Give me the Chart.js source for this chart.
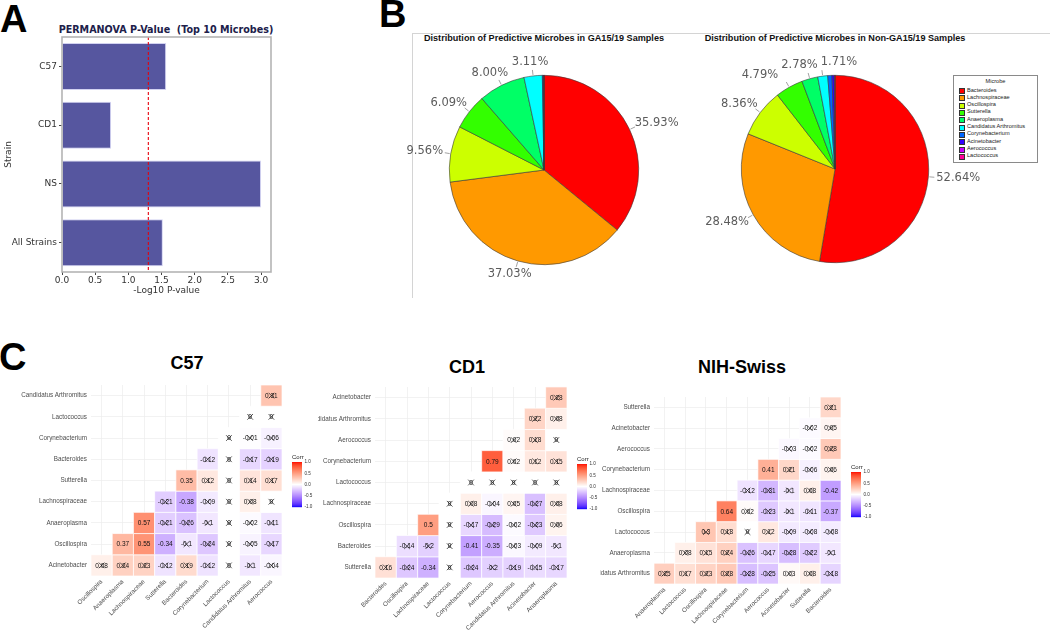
<!DOCTYPE html>
<html>
<head>
<meta charset="utf-8">
<script src="https://cdn.jsdelivr.net/npm/chart.js@4.4.1/dist/chart.umd.min.js"></script>
<style>
  body { margin: 0; width: 1050px; height: 632px; background: #fff; position: relative; overflow: hidden;
         font-family: "Liberation Sans", Arial, sans-serif; }
  .abs { position: absolute; }
  .letter { font-weight: bold; font-size: 38px; line-height: 38px; color: #000; }
  .ptitle { font-weight: bold; font-size: 9.1px; color: #111; white-space: nowrap; text-align: center; }
  .htitle { font-weight: bold; font-size: 18px; color: #000; white-space: nowrap; text-align: center; line-height: 18px; }
  #legendB { border: 1px solid #8a8a8a; background: #fff; font-size: 5.6px; color: #222; }
  #legendB .item { position: absolute; left: 13px; white-space: nowrap; line-height: 7px; }
  #legendB .sw { position: absolute; left: -8px; top: 1.5px; width: 4px; height: 4px; border: 0.5px solid #333; }
</style>
</head>
<body>

<div class="abs letter" style="left:0px;top:0px;">A</div>
<div class="abs letter" style="left:379px;top:-5px;">B</div>
<div class="abs letter" style="left:-1px;top:338px;">C</div>

<!-- panel A -->
<div class="abs" style="left:16px;top:24px;width:300px;text-align:center;font:bold 9.6px 'DejaVu Sans';color:#20204a;white-space:pre;">PERMANOVA P-Value  (Top 10 Microbes)</div>
<canvas id="permanova" class="abs" width="300" height="310" style="left:0;top:0;"></canvas>

<!-- panel B -->
<div class="abs" style="left:412px;top:33px;width:640px;height:264px;border-top:1px solid #d4d4d4;border-left:1px solid #d4d4d4;"></div>
<div class="abs ptitle" style="left:394px;top:33px;width:300px;">Distribution of Predictive Microbes in GA15/19 Samples</div>
<div class="abs ptitle" style="left:685px;top:33px;width:300px;">Distribution of Predictive Microbes in Non-GA15/19 Samples</div>
<canvas id="pieGa" class="abs" width="290" height="262" style="left:396px;top:40px;"></canvas>
<canvas id="pieNonGa" class="abs" width="300" height="262" style="left:690px;top:40px;"></canvas>
<div id="legendB" class="abs" style="left:953px;top:75px;width:83px;height:86px;">
  <div class="abs" style="left:0;top:2px;width:83px;text-align:center;">Microbe</div>
</div>

<!-- panel C -->
<div class="abs htitle" style="left:87px;top:354px;width:200px;">C57</div>
<div class="abs htitle" style="left:367px;top:358px;width:200px;">CD1</div>
<div class="abs htitle" style="left:642px;top:358px;width:200px;">NIH-Swiss</div>
<canvas id="hmC57" class="abs" width="318" height="262" style="left:0;top:370px;"></canvas>
<canvas id="hmCD1" class="abs" width="282" height="262" style="left:318px;top:370px;"></canvas>
<canvas id="hmNIH" class="abs" width="450" height="262" style="left:600px;top:370px;"></canvas>

<script>
'use strict';

// panel A data
const strains = ['C57', 'CD1', 'NS', 'All Strains'];
const negLogP = [1.57, 0.74, 3.0, 1.52];
const pThreshold = 1.301; // -log10(0.05)
const pTicks = [0, 0.5, 1.0, 1.5, 2.0, 2.5, 3.0];

// panel B data
const microbes = ['Bacteroides', 'Lachnospiraceae', 'Oscillospira', 'Sutterella', 'Anaeroplasma',
  'Candidatus Arthromitus', 'Corynebacterium', 'Acinetobacter', 'Aerococcus', 'Lactococcus'];
const microbeColors = ['#FF0000', '#FF9900', '#CCFF00', '#33FF00', '#00FF66',
  '#00FFFF', '#0066FF', '#3300FF', '#CC00FF', '#FF0099'];
const gaShares = [35.93, 37.03, 9.56, 6.09, 8.00, 3.11, 0.14, 0.08, 0.04, 0.02];
const nonGaShares = [52.64, 28.48, 8.36, 4.79, 2.78, 1.71, 0.73, 0.39, 0.08, 0.04];

// panel C data - rows listed bottom to top, null = empty cell
const corrTicks = [1, 0.5, 0, -0.5, -1];

const c57Rows = ['Acinetobacter', 'Oscillospira', 'Anaeroplasma', 'Lachnospiraceae', 'Sutterella',
  'Bacteroides', 'Corynebacterium', 'Lactococcus', 'Candidatus Arthromitus'];
const c57Cols = ['Oscillospira', 'Anaeroplasma', 'Lachnospiraceae', 'Sutterella', 'Bacteroides',
  'Corynebacterium', 'Lactococcus', 'Candidatus Arthromitus', 'Aerococcus'];
const c57Corr = [
  [0.08, 0.24, 0.23, -0.12, 0.19, -0.12, 0, -0.1, -0.04],
  [null, 0.37, 0.55, -0.34, -0.1, -0.24, 0, -0.05, -0.17],
  [null, null, 0.57, -0.21, -0.26, -0.1, 0, -0.02, -0.11],
  [null, null, null, -0.21, -0.38, -0.09, 0, 0.08, 0],
  [null, null, null, null, 0.35, 0.12, 0, 0.14, 0.17],
  [null, null, null, null, null, -0.12, 0, -0.17, -0.19],
  [null, null, null, null, null, null, 0, -0.01, -0.06],
  [null, null, null, null, null, null, null, 0, 0],
  [null, null, null, null, null, null, null, null, 0.31]
];
const c57Sig = [[1, 1], [1, 2], [1, 3], [2, 2], [3, 4], [4, 4]];

const cd1Rows = ['Sutterella', 'Bacteroides', 'Oscillospira', 'Lachnospiraceae', 'Lactococcus',
  'Corynebacterium', 'Aerococcus', 'Candidatus Arthromitus', 'Acinetobacter'];
const cd1Cols = ['Bacteroides', 'Oscillospira', 'Lachnospiraceae', 'Lactococcus', 'Corynebacterium',
  'Aerococcus', 'Candidatus Arthromitus', 'Acinetobacter', 'Anaeroplasma'];
const cd1Corr = [
  [0.16, -0.24, -0.34, 0, -0.24, -0.2, -0.19, -0.15, -0.17],
  [null, -0.14, -0.2, 0, -0.41, -0.35, -0.03, -0.09, -0.1],
  [null, null, 0.5, 0, -0.17, -0.29, -0.02, -0.23, 0.06],
  [null, null, null, 0, 0.08, -0.04, 0.05, -0.27, 0.08],
  [null, null, null, null, 0, 0, 0, 0, 0],
  [null, null, null, null, null, 0.79, 0.02, 0.12, 0.15],
  [null, null, null, null, null, null, 0.02, 0.18, 0],
  [null, null, null, null, null, null, null, 0.22, 0.08],
  [null, null, null, null, null, null, null, null, 0.28]
];
const cd1Sig = [[0, 2], [1, 4], [1, 5], [2, 2], [5, 5]];

const nihRows = ['Candidatus Arthromitus', 'Anaeroplasma', 'Lactococcus', 'Oscillospira', 'Lachnospiraceae',
  'Corynebacterium', 'Aerococcus', 'Acinetobacter', 'Sutterella'];
const nihCols = ['Anaeroplasma', 'Lactococcus', 'Oscillospira', 'Lachnospiraceae', 'Corynebacterium',
  'Aerococcus', 'Acinetobacter', 'Sutterella', 'Bacteroides'];
const nihCorr = [
  [0.25, 0.17, 0.23, 0.28, -0.28, -0.25, 0.03, 0.08, -0.18],
  [null, 0.08, 0.15, 0.24, -0.26, -0.17, -0.28, -0.22, -0.1],
  [null, null, 0.3, 0.18, 0, 0.12, -0.09, -0.08, -0.08],
  [null, null, null, 0.64, 0.02, -0.23, -0.1, -0.11, -0.37],
  [null, null, null, null, -0.12, -0.31, -0.1, 0.08, -0.42],
  [null, null, null, null, null, 0.41, 0.21, -0.06, 0.06],
  [null, null, null, null, null, null, -0.03, -0.02, 0.28],
  [null, null, null, null, null, null, null, -0.02, 0.05],
  [null, null, null, null, null, null, null, null, 0.21]
];
const nihSig = [[3, 3], [3, 8], [4, 8], [5, 5]];


Chart.defaults.font.family = '"Liberation Sans", Arial, sans-serif';
Chart.defaults.animation = false;
Chart.defaults.plugins.legend.display = false;
Chart.defaults.plugins.tooltip.enabled = false;

// ---------- panel A ----------
const frameAndCutoff = {
  id: 'frameAndCutoff',
  afterDatasetsDraw(chart) {
    const { ctx, chartArea: a } = chart;
    const x = chart.scales.x.getPixelForValue(pThreshold);
    ctx.save();
    ctx.strokeStyle = '#e8000b';
    ctx.lineWidth = 1.1;
    ctx.setLineDash([3, 2]);
    ctx.beginPath();
    ctx.moveTo(x, a.top);
    ctx.lineTo(x, a.bottom);
    ctx.stroke();
    ctx.setLineDash([]);
    ctx.strokeStyle = '#b4b4b4';
    ctx.lineWidth = 1.6;
    ctx.strokeRect(a.left, a.top, a.right - a.left, a.bottom - a.top);
    ctx.restore();
  }
};

new Chart(document.getElementById('permanova'), {
  type: 'bar',
  data: {
    labels: strains,
    datasets: [{
      data: negLogP,
      backgroundColor: '#56569f',
      borderColor: 'rgba(205,205,240,0.9)',
      borderWidth: 1,
      categoryPercentage: 1,
      barPercentage: 0.8
    }]
  },
  options: {
    indexAxis: 'y',
    responsive: false,
    devicePixelRatio: 1,
    layout: { padding: { left: 0, right: 29, top: 37, bottom: 0 } },
    scales: {
      x: {
        min: 0,
        max: 3.15,
        afterBuildTicks: s => { s.ticks = pTicks.map(v => ({ value: v })); },
        afterFit: s => { s.height = 38; },
        ticks: { callback: v => Number(v).toFixed(1), color: '#333', padding: 0, font: { family: 'DejaVu Sans', size: 9 } },
        grid: { drawOnChartArea: false, tickLength: 3, tickColor: '#444' },
        border: { display: false },
        title: { display: true, text: '-Log10 P-value', color: '#333', padding: { top: 0, bottom: 14 }, font: { family: 'DejaVu Sans', size: 9 } }
      },
      y: {
        afterFit: s => { s.width = 62; },
        ticks: { color: '#333', padding: 2, font: { family: 'DejaVu Sans', size: 9 } },
        grid: { drawOnChartArea: false, offset: false, tickLength: 3, tickColor: '#444' },
        border: { display: false },
        title: { display: true, text: 'Strain', color: '#333', padding: { top: 3, bottom: 0 }, font: { family: 'DejaVu Sans', size: 9 } }
      }
    }
  },
  plugins: [frameAndCutoff]
});

// ---------- panel B ----------
const pieLabels = {
  id: 'pieLabels',
  afterDatasetsDraw(chart) {
    const { ctx } = chart;
    const vals = chart.data.datasets[0].data;
    const arcs = chart.getDatasetMeta(0).data;
    ctx.save();
    ctx.font = '11.5px "DejaVu Sans"';
    const boxes = [];
    arcs.forEach((arc, i) => {
      if (vals[i] < 1.5) return;
      const mid = (arc.startAngle + arc.endAngle) / 2;
      const c = Math.cos(mid), s = Math.sin(mid);
      const r = arc.outerRadius;
      const text = vals[i].toFixed(2) + '%';
      const w = ctx.measureText(text).width, h = 12;
      const ax = arc.x + (r + 8) * c, ay = arc.y + (r + 8) * s;
      boxes.push({ text, w, h, x: ax + w / 2 * c, y: ay + h / 2 * s, c, s, r, cx: arc.x, cy: arc.y });
    });
    // push overlapping labels apart sideways
    for (let it = 0; it < 20; it++) {
      for (let i = 0; i < boxes.length; i++) {
        for (let j = i + 1; j < boxes.length; j++) {
          const a = boxes[i], b = boxes[j];
          const need = (a.w + b.w) / 2 + 3;
          const dx = a.x - b.x;
          if (Math.abs(dx) < need && Math.abs(a.y - b.y) < (a.h + b.h) / 2) {
            const push = (need - Math.abs(dx)) / 2;
            const dir = dx >= 0 ? 1 : -1;
            a.x += push * dir;
            b.x -= push * dir;
          }
        }
      }
    }
    ctx.strokeStyle = '#8a8a8a';
    ctx.lineWidth = 0.8;
    ctx.fillStyle = '#5c5c5c';
    ctx.textAlign = 'center';
    ctx.textBaseline = 'middle';
    boxes.forEach(b => {
      ctx.beginPath();
      ctx.moveTo(b.cx + (b.r + 1) * b.c, b.cy + (b.r + 1) * b.s);
      ctx.lineTo(b.cx + (b.r + 6) * b.c, b.cy + (b.r + 6) * b.s);
      ctx.stroke();
      ctx.fillText(b.text, b.x, b.y);
    });
    ctx.restore();
  }
};

function drawPie(id, shares, pad) {
  return new Chart(document.getElementById(id), {
    type: 'pie',
    data: {
      labels: microbes,
      datasets: [{ data: shares, backgroundColor: microbeColors, borderColor: '#3a3a3a', borderWidth: 0.6 }]
    },
    options: { responsive: false, devicePixelRatio: 1, layout: { padding: pad } },
    plugins: [pieLabels]
  });
}
drawPie('pieGa', gaShares, { left: 53, right: 47, top: 35, bottom: 37 });
drawPie('pieNonGa', nonGaShares, { left: 51, right: 61, top: 35, bottom: 39 });

// legend of panel B
const legendB = document.getElementById('legendB');
microbes.forEach((m, i) => {
  let item = document.createElement('div');
  item.className = 'item';
  item.style.top = (10.5 + i * 7.33) + 'px';
  item.innerHTML = '<span class="sw" style="background:' + microbeColors[i] + '"></span>' + m;
  legendB.appendChild(item);
});

// ---------- panel C ----------
// ggplot style gradient2 (blue - white - red) in Lab space
function hexToLab(hex) {
  let rgb = [1, 3, 5].map(k => parseInt(hex.substr(k, 2), 16) / 255)
    .map(c => c <= 0.04045 ? c / 12.92 : Math.pow((c + 0.055) / 1.055, 2.4));
  let X = (0.4124 * rgb[0] + 0.3576 * rgb[1] + 0.1805 * rgb[2]) / 0.95047;
  let Y = 0.2126 * rgb[0] + 0.7152 * rgb[1] + 0.0722 * rgb[2];
  let Z = (0.0193 * rgb[0] + 0.1192 * rgb[1] + 0.9505 * rgb[2]) / 1.08883;
  const f = t => t > 0.008856 ? Math.cbrt(t) : 7.787 * t + 16 / 116;
  return [116 * f(Y) - 16, 500 * (f(X) - f(Y)), 200 * (f(Y) - f(Z))];
}
function labToRgb(L, a, b) {
  const fy = (L + 16) / 116, fx = fy + a / 500, fz = fy - b / 200;
  const finv = t => t * t * t > 0.008856 ? t * t * t : (t - 16 / 116) / 7.787;
  const X = 0.95047 * finv(fx), Y = finv(fy), Z = 1.08883 * finv(fz);
  let lin = [3.2406 * X - 1.5372 * Y - 0.4986 * Z, -0.9689 * X + 1.8758 * Y + 0.0415 * Z, 0.0557 * X - 0.2040 * Y + 1.0570 * Z];
  let out = lin.map(c => c <= 0.0031308 ? 12.92 * c : 1.055 * Math.pow(c, 1 / 2.4) - 0.055)
    .map(c => Math.round(Math.min(1, Math.max(0, c)) * 255));
  return 'rgb(' + out.join(',') + ')';
}
const labWhite = hexToLab('#ffffff');
const labRed = hexToLab('#ff0000');
const labBlue = hexToLab('#0000ff');
function corrColor(v) {
  const end = v >= 0 ? labRed : labBlue;
  const t = Math.min(1, Math.abs(v));
  return labToRgb(labWhite[0] + (end[0] - labWhite[0]) * t,
    labWhite[1] + (end[1] - labWhite[1]) * t,
    labWhite[2] + (end[2] - labWhite[2]) * t);
}

const cellText = {
  id: 'cellText',
  afterDatasetDraw(chart, args) {
    if (args.index !== 0) return;
    const { ctx } = chart;
    const data = chart.data.datasets[0].data;
    ctx.save();
    ctx.font = '6.5px "Liberation Sans"';
    ctx.fillStyle = '#111';
    ctx.textAlign = 'center';
    ctx.textBaseline = 'middle';
    args.meta.data.forEach((pt, i) => {
      ctx.fillText(String(data[i].v), pt.x, pt.y + 0.5);
    });
    ctx.restore();
  }
};

const corrBar = {
  id: 'corrBar',
  afterDraw(chart) {
    const { ctx, chartArea: a } = chart;
    const x0 = a.right + 10, w = 10, h = 45;
    const y0 = (a.top + a.bottom) / 2 + 4 - h / 2;
    ctx.save();
    for (let i = 0; i < h; i++) {
      ctx.fillStyle = corrColor(1 - 2 * (i + 0.5) / h);
      ctx.fillRect(x0, y0 + i, w, 1.2);
    }
    ctx.fillStyle = '#222';
    ctx.font = '6px "Liberation Sans"';
    ctx.textAlign = 'left';
    ctx.textBaseline = 'bottom';
    ctx.fillText('Corr', x0, y0 - 1.5);
    ctx.font = '4.6px "Liberation Sans"';
    ctx.textBaseline = 'middle';
    ctx.fillStyle = '#333';
    corrTicks.forEach(t => {
      const y = y0 + (1 - t) / 2 * h;
      ctx.fillText(t.toFixed(1), x0 + w + 2.5, y);
    });
    ctx.restore();
  }
};

function drawHeatmap(id, rowNames, colNames, corr, sig, box) {
  const cells = [];
  const crosses = [];
  corr.forEach((row, r) => row.forEach((v, c) => {
    if (v === null) return;
    cells.push({ x: c, y: r, v: v });
    if (!sig.some(s => s[0] === r && s[1] === c)) crosses.push({ x: c, y: r });
  }));
  const cellRadius = ctx => {
    const s = ctx.chart.scales.x;
    return Math.abs(s.getPixelForValue(1) - s.getPixelForValue(0)) / 2 / Math.SQRT1_2;
  };
  const axisFont = { family: '"Liberation Sans", Arial', size: 6.3 };
  return new Chart(document.getElementById(id), {
    type: 'scatter',
    data: {
      datasets: [
        {
          data: cells, order: 2, clip: false, pointStyle: 'rect',
          pointRadius: cellRadius, pointHoverRadius: cellRadius,
          backgroundColor: ctx => ctx.raw ? corrColor(ctx.raw.v) : '#fff',
          borderColor: '#ffffff', borderWidth: 0.7
        },
        {
          data: crosses, order: 1, clip: false, pointStyle: 'crossRot',
          pointRadius: 4, borderColor: '#111', borderWidth: 0.7
        }
      ]
    },
    options: {
      responsive: false,
      devicePixelRatio: 1,
      layout: { padding: { left: 0, top: box.top, right: box.right, bottom: 0 } },
      scales: {
        x: {
          type: 'linear', min: -0.5, max: 8.5,
          afterBuildTicks: s => { s.ticks = colNames.map((_, i) => ({ value: i })); },
          afterFit: s => { s.height = box.xAxis; },
          ticks: { callback: v => colNames[v], minRotation: 45, maxRotation: 45, autoSkip: false, color: '#4d4d4d', padding: 2, font: axisFont },
          grid: { color: '#ececec', lineWidth: 0.7, drawTicks: false },
          border: { display: false }
        },
        y: {
          type: 'linear', min: -0.5, max: 8.5,
          afterBuildTicks: s => { s.ticks = rowNames.map((_, i) => ({ value: i })); },
          afterFit: s => { s.width = box.yAxis; },
          ticks: { callback: v => rowNames[v], autoSkip: false, color: '#4d4d4d', padding: 4, font: axisFont },
          grid: { color: '#ececec', lineWidth: 0.7, drawTicks: false },
          border: { display: false }
        }
      }
    },
    plugins: [cellText, corrBar]
  });
}

drawHeatmap('hmC57', c57Rows, c57Cols, c57Corr, c57Sig, { top: 15, right: 36, xAxis: 56, yAxis: 91 });
drawHeatmap('hmCD1', cd1Rows, cd1Cols, cd1Corr, cd1Sig, { top: 17, right: 33, xAxis: 54, yAxis: 57 });
drawHeatmap('hmNIH', nihRows, nihCols, nihCorr, nihSig, { top: 27, right: 209, xAxis: 48, yAxis: 54 });
</script>
</body>
</html>
